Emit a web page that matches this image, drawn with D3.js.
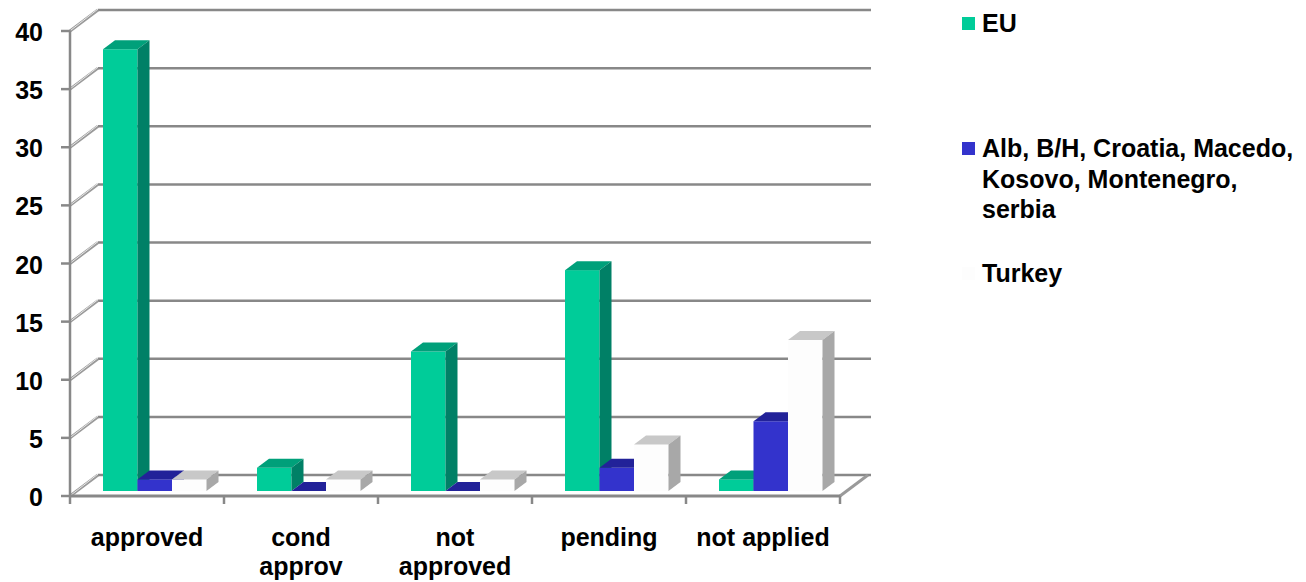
<!DOCTYPE html>
<html>
<head>
<meta charset="utf-8">
<script src="https://cdn.jsdelivr.net/npm/d3@7"></script>
<style>
	body { margin: 0; background: #ffffff; }
	text { font-family: Arial, "Liberation Sans", sans-serif; font-weight: bold; fill: #000; }
</style>
</head>
<body>
<div id="chart"></div>
<script>
const categories = ["approved", "cond approv", "not approved", "pending", "not applied"];
const categoryLines = [["approved"], ["cond", "approv"], ["not", "approved"], ["pending"], ["not applied"]];
const seriesNames = ["EU", "Alb, B/H, Croatia, Macedo, Kosovo, Montenegro, serbia", "Turkey"];
const legendLines = [["EU"], ["Alb, B/H, Croatia, Macedo,", "Kosovo, Montenegro,", "serbia"], ["Turkey"]];
const euValues = [38, 2, 12, 19, 1];
const balkanValues = [1, 0, 0, 2, 6];
const turkeyValues = [1, 1, 1, 4, 13];
const yTicks = [0, 5, 10, 15, 20, 25, 30, 35, 40];

const colors = [
	{ front: "#00cc99", top: "#00a07a", side: "#008066" },
	{ front: "#3333cc", top: "#222299", side: "#1f1f8f" },
	{ front: "#fdfdfd", top: "#c8c8c8", side: "#a8a8a8" }
];

const width = 1306;
const height = 582;

// wall depth and bar depth (oblique projection)
const DX = 28, DY = -21;
const bdx = 12, bdy = -9;
const ox = 5, oy = -5;

const svg = d3.select("#chart")
	.append("svg")
	.attr("width", width)
	.attr("height", height);

const x0 = d3.scaleBand()
	.domain(categories)
	.range([70, 840]);

const x1 = d3.scaleBand()
	.domain(seriesNames)
	.range([28, 131.5]);

const y = d3.scaleLinear()
	.domain([0, 40])
	.range([496, 31]);

// back wall gridlines
svg.selectAll(".grid")
	.data(yTicks)
	.enter()
	.append("line")
	.attr("x1", 70 + DX)
	.attr("x2", 871)
	.attr("y1", function(d) { return y(d) + DY; })
	.attr("y2", function(d) { return y(d) + DY; })
	.attr("stroke", "#888")
	.attr("stroke-width", 2.5);

// left wall diagonals
svg.selectAll(".diag")
	.data(yTicks)
	.enter()
	.append("line")
	.attr("x1", 70)
	.attr("x2", 70 + DX)
	.attr("y1", function(d) { return y(d); })
	.attr("y2", function(d) { return y(d) + DY; })
	.attr("stroke", "#9a9a9a")
	.attr("stroke-width", 3);
svg.selectAll(".diag2")
	.data(yTicks)
	.enter()
	.append("line")
	.attr("x1", 71)
	.attr("x2", 70 + DX)
	.attr("y1", function(d) { return y(d) - 1; })
	.attr("y2", function(d) { return y(d) + DY - 1; })
	.attr("stroke", "#e6e6e6")
	.attr("stroke-width", 1);

// floor right diagonal
svg.append("line")
	.attr("x1", 840).attr("y1", y(0))
	.attr("x2", 840 + DX).attr("y2", y(0) + DY)
	.attr("stroke", "#9a9a9a")
	.attr("stroke-width", 3);

// bars
const allValues = [euValues, balkanValues, turkeyValues];
const barData = [];
categories.forEach(function(c, i) {
	seriesNames.forEach(function(s, j) {
		barData.push({ cat: c, series: s, idx: j, value: allValues[j][i] });
	});
});

const bw = x1.bandwidth();
const bars = svg.selectAll(".bar")
	.data(barData)
	.enter()
	.append("g");

bars.append("rect")
	.attr("x", function(d) { return x0(d.cat) + x1(d.series) + ox; })
	.attr("y", function(d) { return y(d.value) + oy; })
	.attr("width", bw)
	.attr("height", function(d) { return y(0) - y(d.value); })
	.attr("fill", function(d) { return colors[d.idx].front; });

bars.append("polygon")
	.attr("points", function(d) {
		const xl = x0(d.cat) + x1(d.series) + ox;
		const yt = y(d.value) + oy;
		return [[xl, yt], [xl + bdx, yt + bdy], [xl + bw + bdx, yt + bdy], [xl + bw, yt]].join(" ");
	})
	.attr("fill", function(d) { return colors[d.idx].top; });

bars.append("polygon")
	.attr("points", function(d) {
		const xr = x0(d.cat) + x1(d.series) + ox + bw;
		const yt = y(d.value) + oy;
		const yb = y(0) + oy;
		return [[xr, yt], [xr + bdx, yt + bdy], [xr + bdx, yb + bdy], [xr, yb]].join(" ");
	})
	.attr("fill", function(d) { return colors[d.idx].side; });

// front axes
svg.append("line")
	.attr("x1", 70).attr("x2", 70)
	.attr("y1", y(40)).attr("y2", y(0))
	.attr("stroke", "#888")
	.attr("stroke-width", 2.5);

svg.selectAll(".ytick")
	.data(yTicks)
	.enter()
	.append("line")
	.attr("x1", 61).attr("x2", 70)
	.attr("y1", function(d) { return y(d); })
	.attr("y2", function(d) { return y(d); })
	.attr("stroke", "#888")
	.attr("stroke-width", 2.5);

svg.append("line")
	.attr("x1", 69).attr("x2", 840)
	.attr("y1", y(0)).attr("y2", y(0))
	.attr("stroke", "#888")
	.attr("stroke-width", 3);

svg.selectAll(".xtick")
	.data(categories.concat(["end"]))
	.enter()
	.append("line")
	.attr("x1", function(d, i) { return 70 + i * x0.step(); })
	.attr("x2", function(d, i) { return 70 + i * x0.step(); })
	.attr("y1", y(0))
	.attr("y2", y(0) + 8)
	.attr("stroke", "#888")
	.attr("stroke-width", 2.5);

// y labels
svg.selectAll(".ylabel")
	.data(yTicks)
	.enter()
	.append("text")
	.attr("x", 43)
	.attr("y", function(d) { return y(d) + 10; })
	.attr("text-anchor", "end")
	.style("font-size", "25px")
	.text(function(d) { return d; });

// category labels
categoryLines.forEach(function(lines, i) {
	const t = svg.append("text")
		.attr("text-anchor", "middle")
		.style("font-size", "25px");
	lines.forEach(function(l, k) {
		t.append("tspan")
			.attr("x", x0(categories[i]) + x0.bandwidth() / 2)
			.attr("y", 546 + k * 29)
			.text(l);
	});
});

// legend
const legendY = [32, 157, 282];
seriesNames.forEach(function(s, i) {
	svg.append("rect")
		.attr("x", 962)
		.attr("y", legendY[i] - 15)
		.attr("width", 13)
		.attr("height", 13)
		.attr("fill", colors[i].front);
	const t = svg.append("text")
		.style("font-size", "25px");
	legendLines[i].forEach(function(l, k) {
		t.append("tspan")
			.attr("x", 982)
			.attr("y", legendY[i] + k * 30.5)
			.text(l);
	});
});
</script>
</body>
</html>
